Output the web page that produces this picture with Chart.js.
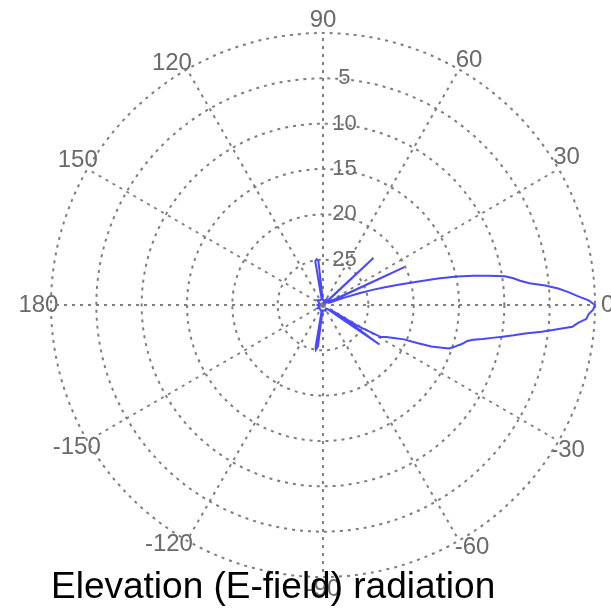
<!DOCTYPE html>
<html>
<head>
<meta charset="utf-8">
<script src="https://cdn.jsdelivr.net/npm/chart.js@4.4.1/dist/chart.umd.min.js"></script>
<style>
html, body { margin: 0; padding: 0; width: 611px; height: 608px; overflow: hidden; background: #ffffff; }
#wrap { position: absolute; left: -10px; top: 0; width: 666px; height: 608px; }
#title { position: absolute; left: 51px; top: 567px; font-family: "Liberation Sans", Arial, sans-serif; font-size: 37px; line-height: 37px; color: #000; white-space: nowrap; }
</style>
</head>
<body>
<div id="wrap"><canvas id="c" width="666" height="608"></canvas></div>
<div id="title">Elevation (E-field) radiation</div>
<script>
// ---- data ----
// angular tick labels, every 30 degrees going clockwise from the top
const angleLabels = ['90', '60', '30', '0', '-30', '-60', '-90', '-120', '-150', '180', '150', '120'];
// radial ring labels (outer ring -> inner ring)
const ringLabels = ['5', '10', '15', '20', '25'];
// sample directions (degrees, 0 = right, counter-clockwise positive)
const sampleAngles = [-180, -165, -150, -135, -120, -106, -102, -100, -99, -97,
  -94, -80, -65, -50, -40, -37, -35, -34, -33, -31,
  -29, -27, -25, -23, -22, -21, -20, -19, -18, -17,
  -16, -15, -14, -13, -12, -11, -10, -9, -8, -7,
  -6, -5, -4, -3, -2, -1, 0, 1, 2, 3,
  4, 5, 6, 7, 8, 9, 10, 11, 12, 13,
  14, 15, 16, 17, 18, 19, 20, 22, 25, 28,
  34, 40, 43, 46, 60, 75, 88, 93, 96, 98,
  100, 103, 120, 140, 160];
// level below the peak, in the units of the ring labels (0 = outer ring, 30 = centre)
const lossDb = [29.4, 29.6, 29.3, 29.5, 29.4, 29.3, 29.1, 25.3, 25.0, 25.4,
  29.4, 29.4, 29.3, 29.5, 29.3, 27.8, 22.4, 25.6, 29.1, 25.6,
  22.7, 22.2, 21.4, 20.3, 18.8, 17.2, 16.3, 15.3, 14.9, 14.6,
  14.2, 13.9, 13.6, 13.0, 12.0, 11.0, 9.9, 8.7, 7.5, 5.7,
  4.2, 2.4, 1.8, 0.9, 0.7, 0.2, 0.0, 0.7, 1.9, 2.9,
  4.0, 5.4, 7.1, 8.1, 8.8, 9.7, 11.5, 13.1, 14.9, 17.0,
  19.5, 21.4, 22.9, 24.3, 25.8, 27.6, 29.1, 29.4, 20.1, 29.4,
  29.5, 29.6, 22.4, 29.6, 29.3, 29.6, 29.4, 29.4, 25.1, 24.9,
  25.1, 29.3, 29.4, 29.2, 29.6];
const RANGE = 30;

// ---- build the radar table (one slot per degree, clockwise from top) ----
const STEPS = 360;
const labels = [];
for (let i = 0; i < STEPS; i++) labels.push(i % 30 === 0 ? angleLabels[i / 30] : '');
const radial = new Array(STEPS).fill(null);
sampleAngles.forEach((a, k) => {
  const idx = (((90 - a) % 360) + 360) % 360;
  radial[idx] = RANGE - lossDb[k];
});

// ---- label placement helpers ----
const FAMILY = '"Liberation Sans", Arial, sans-serif';
const LABEL_SIZE = 24;
const R_TARGET = 272, TICK_EXTRA = 11, LABEL_DIST = 284.6;
const mctx = document.createElement('canvas').getContext('2d');
function labelPadding(ctx) {
  if (!ctx.label) return -20;
  const theta = ctx.index * 360 / STEPS;
  mctx.font = LABEL_SIZE + 'px ' + FAMILY;
  const w = mctx.measureText(ctx.label).width;
  const lh = LABEL_SIZE * 1.2;
  const sx = (theta === 0 || theta === 180) ? 0 : (theta < 180 ? 1 : -1);
  const sy = (theta === 90 || theta === 270) ? 0 : ((theta < 90 || theta > 270) ? -1 : 1);
  const rad = theta * Math.PI / 180;
  const off = sx * (w / 2) * Math.sin(rad) - sy * (lh / 2) * Math.cos(rad);
  return LABEL_DIST - (R_TARGET + TICK_EXTRA) - off;
}

const GRID = '#7e7e7e';
new Chart(document.getElementById('c'), {
  type: 'radar',
  data: {
    labels: labels,
    datasets: [{
      data: radial,
      borderColor: 'rgb(72,72,255)',
      borderWidth: 2,
      pointRadius: 0,
      pointHoverRadius: 0,
      fill: false,
      spanGaps: true,
      tension: 0
    }]
  },
  options: {
    responsive: false,
    animation: false,
    events: [],
    layout: { padding: { top: 6, bottom: 4, left: 0, right: 0 } },
    plugins: { legend: { display: false }, tooltip: { enabled: false }, title: { display: false } },
    scales: {
      r: {
        min: 0,
        max: RANGE,
        startAngle: 0,
        ticks: {
          stepSize: 5,
          display: true,
          showLabelBackdrop: false,
          backdropPadding: 0,
          color: '#6a6a6a',
          font: { family: FAMILY, size: 22 },
          callback: (v) => {
            const lbl = String(RANGE - v);
            return ringLabels.includes(lbl) ? '       ' + lbl : '';
          }
        },
        grid: { circular: true, color: GRID, lineWidth: 2 },
        border: { dash: [3, 5] },
        angleLines: {
          display: true,
          color: GRID,
          lineWidth: (c) => (c.index % 30 === 0 ? 2 : 0),
          borderDash: [3, 5]
        },
        pointLabels: {
          display: true,
          color: '#6a6a6a',
          font: (c) => (c.label ? { family: FAMILY, size: LABEL_SIZE } : { family: FAMILY, size: 1 }),
          padding: labelPadding
        }
      }
    }
  }
});
</script>
</body>
</html>
